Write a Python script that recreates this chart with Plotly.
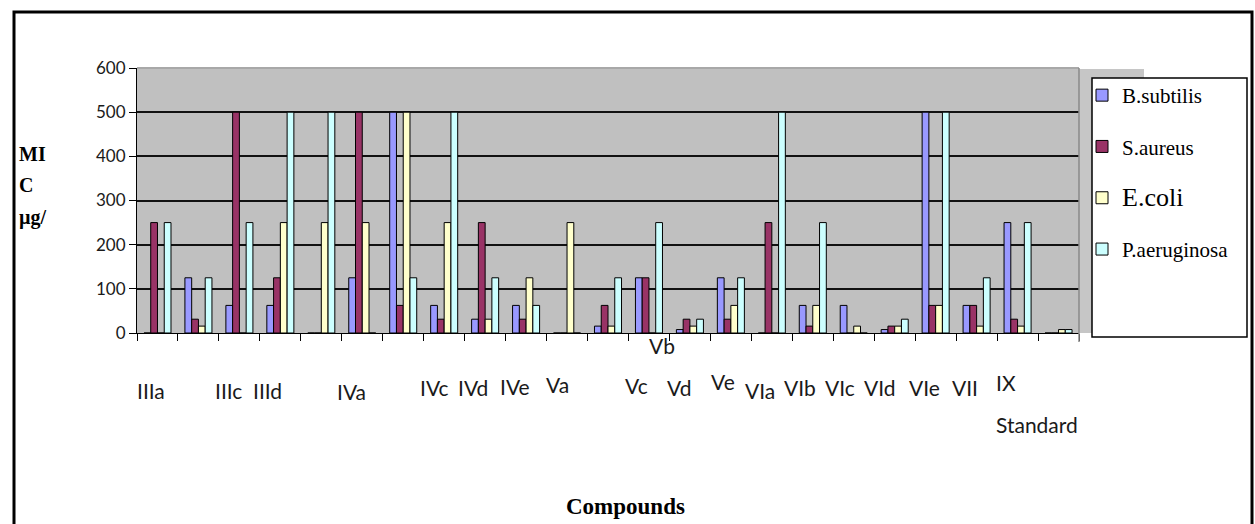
import plotly.graph_objects as go

# ---------------- data ----------------
compounds = ["IIIa", "IIIb", "IIIc", "IIId", "IIIe", "IVa", "IVb", "IVc", "IVd", "IVe",
             "Va", "Vb", "Vc", "Vd", "Ve", "VIa", "VIb", "VIc", "VId", "VIe",
             "VII", "IX", "Standard"]
b_subtilis = [0, 125, 62.5, 62.5, 0, 125, 500, 62.5, 31.25, 62.5,
              0, 15.6, 125, 7.8, 125, 0, 62.5, 62.5, 7.8, 500,
              62.5, 250, 0]
s_aureus = [250, 31.25, 500, 125, 0, 500, 62.5, 31.25, 250, 31.25,
            0, 62.5, 125, 31.25, 31.25, 250, 15.6, 0, 15.6, 62.5,
            62.5, 31.25, 0]
e_coli = [0, 15.6, 0, 250, 250, 250, 500, 250, 31.25, 125,
          250, 15.6, 0, 15.6, 62.5, 0, 62.5, 15.6, 15.6, 62.5,
          15.6, 15.6, 7.8]
p_aeruginosa = [250, 125, 250, 500, 500, 0, 125, 500, 125, 62.5,
                0, 125, 250, 31.25, 125, 500, 250, 0, 31.25, 500,
                125, 250, 7.8]
series_names = ["B.subtilis", "S.aureus", "E.coli", "P.aeruginosa"]
y_ticks = [0, 100, 200, 300, 400, 500, 600]
# category labels that are shown under the axis
shown_labels = ["IIIa", "IIIc", "IIId", "IVa", "IVc", "IVd", "IVe", "Va", "Vb", "Vc",
                "Vd", "Ve", "VIa", "VIb", "VIc", "VId", "VIe", "VII", "IX", "Standard"]

# ---------------- style ----------------
colors = ["#9999FF", "#993366", "#FFFFCC", "#CCFFFF"]
legend_sizes = [21, 21, 26, 21]
# label placement (x shift px, vertical centre px)
label_place = {
    "IIIa": (-6, 390), "IIIc": (-11, 390), "IIId": (-13, 390), "IVa": (-11, 391),
    "IVc": (-10, 387), "IVd": (-12, 387), "IVe": (-11, 386), "Va": (-10, 384),
    "Vb": (54, 345), "Vc": (-12, 385), "Vd": (-11, 387), "Ve": (-8, 381),
    "VIa": (-12, 390), "VIb": (-13, 387), "VIc": (-14, 387), "VId": (-15, 387),
    "VIe": (-11, 387), "VII": (-12, 387), "IX": (-12, 382), "Standard": (-22, 424),
}

W, H = 1255, 524
L, R, T, B = 137, 176, 68, 191
PW, PH = W - L - R, H - T - B


def px_x(x):
    return (x - L) / PW


def px_y(y):
    return (H - B - y) / PH


fig = go.Figure()
for name, vals, col, fs in zip(series_names, [b_subtilis, s_aureus, e_coli, p_aeruginosa],
                               colors, legend_sizes):
    label = name if fs == 21 else f'<span style="font-size:{fs}px">{name}</span>'
    fig.add_trace(go.Bar(
        x=compounds, y=vals, name=label, legendgroup=name,
        marker=dict(color=col, line=dict(color="black", width=1)),
    ))

fig.update_layout(
    width=W, height=H, autosize=False,
    margin=dict(l=L, r=R, t=T, b=B, pad=0),
    paper_bgcolor="white", plot_bgcolor="#C0C0C0",
    barmode="group", bargap=0.34, bargroupgap=0,
    showlegend=True,
    legend=dict(x=px_x(1082), y=px_y(75), xanchor="left", yanchor="top",
                bgcolor="rgba(0,0,0,0)", borderwidth=0, tracegroupgap=21,
                font=dict(family="Liberation Serif", size=21, color="black")),
    xaxis=dict(type="category", range=[-0.5, len(compounds) - 0.5],
               showline=True, linecolor="black", linewidth=1,
               ticks="outside", tickson="boundaries", ticklen=7, tickcolor="black",
               showticklabels=False, showgrid=False, zeroline=False),
    yaxis=dict(range=[0, 600], tickvals=y_ticks, showgrid=True, gridcolor="#111111",
               gridwidth=1.6, zeroline=False, showline=True, linecolor="black",
               linewidth=1, ticks="outside", ticklen=7, tickcolor="black",
               tickfont=dict(family="Lato", size=17, color="#1a1a1a")),
)

shapes = [
    # grey side wall behind legend
    dict(type="rect", xref="paper", yref="paper", x0=1, x1=px_x(1144), y0=0, y1=px_y(69),
         fillcolor="#C6C6C6", line=dict(width=0), layer="below"),
    # top edge of plot area (light grey)
    dict(type="line", xref="paper", yref="paper", x0=0, x1=1, y0=1, y1=1,
         line=dict(color="#A8A8A8", width=2), layer="above"),
    # right edge of plot area
    dict(type="line", xref="paper", yref="paper", x0=1, x1=1, y0=px_y(342), y1=1,
         line=dict(color="#8A8A8A", width=1.5), layer="above"),
    # legend box
    dict(type="rect", xref="paper", yref="paper", x0=px_x(1092), x1=px_x(1247),
         y0=px_y(337), y1=px_y(78), fillcolor="white",
         line=dict(color="black", width=1.5), layer="above"),
    # outer chart border
    dict(type="rect", xref="paper", yref="paper", x0=px_x(14), x1=px_x(1252),
         y0=px_y(560), y1=px_y(12), line=dict(color="black", width=3), layer="above"),
]
fig.update_layout(shapes=shapes)

ann = []
for lab in shown_labels:
    dx, yc = label_place[lab]
    ann.append(dict(x=lab, xref="x", y=px_y(yc), yref="paper", text=lab, showarrow=False,
                    xshift=dx, xanchor="center", yanchor="middle",
                    font=dict(family="Lato", size=21, color="#1a1a1a")))
for txt, yc in zip(["MI", "C", "µg/"], [154, 185, 217]):
    ann.append(dict(x=px_x(17), xref="paper", y=px_y(yc), yref="paper", text=f"<b>{txt}</b>",
                    showarrow=False, xanchor="left", yanchor="middle",
                    font=dict(family="Liberation Serif", size=20, color="black")))
ann.append(dict(x=px_x(625), xref="paper", y=px_y(507), yref="paper", text="<b>Compounds</b>",
                showarrow=False, xanchor="center", yanchor="middle",
                font=dict(family="Liberation Serif", size=23, color="black")))
fig.update_layout(annotations=ann)

fig.write_html("out.html", post_script="document.body.style.margin='0px';",
               config={"displayModeBar": False})
